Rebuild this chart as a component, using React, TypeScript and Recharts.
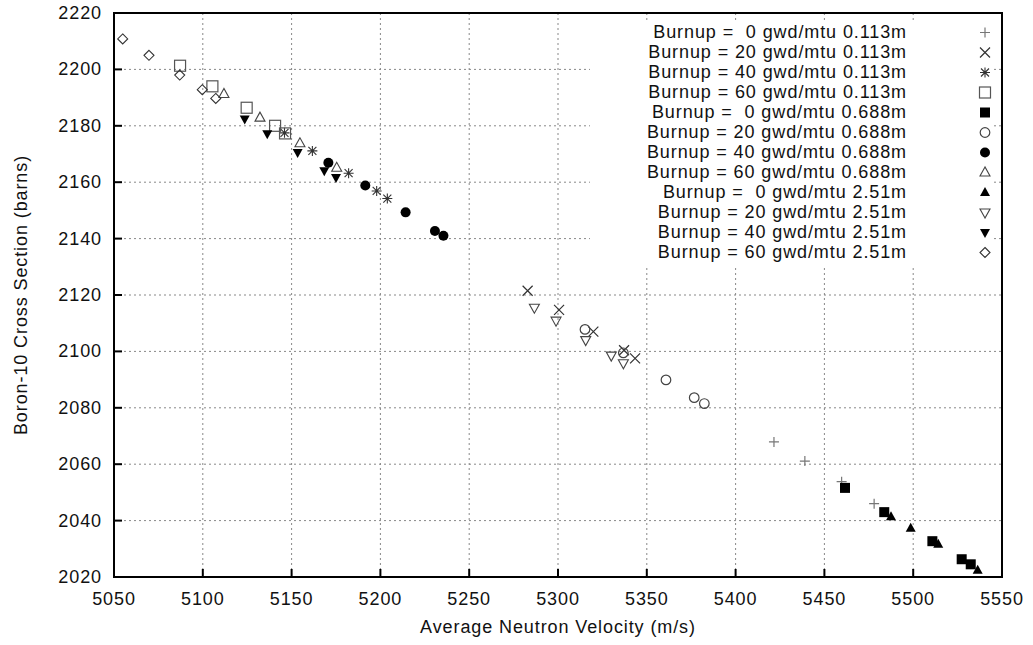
import React from 'react'
import { ScatterChart, Scatter, XAxis, YAxis, CartesianGrid, Legend, ReferenceArea } from 'recharts'

type Pt = [number, number]

// velocity (m/s), cross section (barns)
const b0_113: Pt[] = [[5421.6, 2067.9], [5439, 2061.1], [5459.7, 2053.8], [5478, 2046]]
const b20_113: Pt[] = [[5282.9, 2121.5], [5300.6, 2114.7], [5319.9, 2107], [5337.2, 2100.4], [5343.4, 2097.5]]
const b40_113: Pt[] = [[5146, 2177.5], [5161.7, 2171.1], [5182.1, 2163.2], [5197.9, 2156.9], [5203.9, 2154.2]]
const b60_113: Pt[] = [[5087.2, 2201.3], [5105.4, 2194], [5124.7, 2186.4], [5140.7, 2180], [5146.3, 2177.3]]

const b0_688: Pt[] = [[5461.6, 2051.6], [5483.7, 2043], [5510.8, 2032.7], [5527.3, 2026.3], [5532.4, 2024.5]]
const b20_688: Pt[] = [[5315.2, 2107.8], [5336.8, 2099.5], [5360.8, 2089.9], [5376.7, 2083.6], [5382.4, 2081.5]]
const b40_688: Pt[] = [[5170.7, 2166.9], [5191.5, 2158.8], [5214.2, 2149.3], [5230.7, 2142.7], [5235.5, 2141]]
const b60_688: Pt[] = [[5111.9, 2191.3], [5132.2, 2182.9], [5154.7, 2173.8], [5175.4, 2165.1]]

const b0_251: Pt[] = [[5487.5, 2041.4], [5498.6, 2037.3], [5514.1, 2031.6], [5536.3, 2022.4]]
const b20_251: Pt[] = [[5286.7, 2115.5], [5298.9, 2110.9], [5315.6, 2104], [5330, 2098.5], [5336.8, 2095.8]]
const b40_251: Pt[] = [[5123.6, 2182.4], [5136.3, 2177.2], [5153.4, 2170.5], [5168.4, 2164.1], [5175, 2161.7]]
const b60_251: Pt[] = [[5054.9, 2210.8], [5069.7, 2205], [5087, 2198], [5099.7, 2192.8], [5107.3, 2189.7]]

const seriesNames = [
  'Burnup =  0 gwd/mtu 0.113m',
  'Burnup = 20 gwd/mtu 0.113m',
  'Burnup = 40 gwd/mtu 0.113m',
  'Burnup = 60 gwd/mtu 0.113m',
  'Burnup =  0 gwd/mtu 0.688m',
  'Burnup = 20 gwd/mtu 0.688m',
  'Burnup = 40 gwd/mtu 0.688m',
  'Burnup = 60 gwd/mtu 0.688m',
  'Burnup =  0 gwd/mtu 2.51m',
  'Burnup = 20 gwd/mtu 2.51m',
  'Burnup = 40 gwd/mtu 2.51m',
  'Burnup = 60 gwd/mtu 2.51m',
]
const seriesData = [b0_113, b20_113, b40_113, b60_113, b0_688, b20_688, b40_688, b60_688, b0_251, b20_251, b40_251, b60_251]
const markerKinds = ['plus', 'cross', 'star', 'square', 'squareFill', 'circle', 'circleFill', 'tri', 'triFill', 'triDown', 'triDownFill', 'diamond']

const xTicks = [5050, 5100, 5150, 5200, 5250, 5300, 5350, 5400, 5450, 5500, 5550]
const yTicks = [2020, 2040, 2060, 2080, 2100, 2120, 2140, 2160, 2180, 2200, 2220]

const FONT = '"Liberation Sans", Arial, Helvetica, sans-serif'
const textStyle = { fontFamily: FONT, fontSize: 18, letterSpacing: 0.9 }

function Marker({ kind, cx, cy }: { kind: string; cx: number; cy: number }) {
  switch (kind) {
    case 'plus':
      return <path d={`M${cx - 5},${cy}h10M${cx},${cy - 5}v10`} stroke="#777" strokeWidth={1.2} fill="none" />
    case 'cross':
      return <path d={`M${cx - 5},${cy - 5}l10,10M${cx - 5},${cy + 5}l10,-10`} stroke="#333" strokeWidth={1.2} fill="none" />
    case 'star':
      return (
        <path
          d={`M${cx - 5},${cy}h10M${cx},${cy - 5}v10M${cx - 4},${cy - 4}l8,8M${cx - 4},${cy + 4}l8,-8`}
          stroke="#333"
          strokeWidth={1.1}
          fill="none"
        />
      )
    case 'square':
      return <rect x={cx - 5.5} y={cy - 5.5} width={11} height={11} stroke="#555" strokeWidth={1.2} fill="none" />
    case 'squareFill':
      return <rect x={cx - 5} y={cy - 5} width={10} height={10} fill="#000" />
    case 'circle':
      return <circle cx={cx} cy={cy} r={4.8} stroke="#444" strokeWidth={1.2} fill="none" />
    case 'circleFill':
      return <circle cx={cx} cy={cy} r={5} fill="#000" />
    case 'tri':
      return <polygon points={`${cx},${cy - 5.5} ${cx - 5},${cy + 3.5} ${cx + 5},${cy + 3.5}`} stroke="#444" strokeWidth={1.1} fill="none" />
    case 'triFill':
      return <polygon points={`${cx},${cy - 5.5} ${cx - 5},${cy + 3.5} ${cx + 5},${cy + 3.5}`} fill="#000" />
    case 'triDown':
      return <polygon points={`${cx},${cy + 5.5} ${cx - 5},${cy - 3.5} ${cx + 5},${cy - 3.5}`} stroke="#444" strokeWidth={1.1} fill="none" />
    case 'triDownFill':
      return <polygon points={`${cx},${cy + 5.5} ${cx - 5},${cy - 3.5} ${cx + 5},${cy - 3.5}`} fill="#000" />
    default:
      return <polygon points={`${cx},${cy - 5} ${cx + 5},${cy} ${cx},${cy + 5} ${cx - 5},${cy}`} stroke="#333" strokeWidth={1.1} fill="none" />
  }
}

const BottomTick = ({ x, y, payload }: any) => (
  <g>
    <line x1={x} x2={x} y1={y} y2={y - 8} stroke="#000" strokeWidth={2} />
    <text x={x} y={y + 28} textAnchor="middle" fill="#111" style={textStyle}>{payload.value}</text>
  </g>
)
const TopTick = ({ x, y }: any) => <line x1={x} x2={x} y1={y} y2={y + 8} stroke="#000" strokeWidth={2} />
const LeftTick = ({ x, y, payload }: any) => (
  <g>
    <line x1={x} x2={x + 8} y1={y} y2={y} stroke="#000" strokeWidth={2} />
    <text x={x - 12} y={y + 6} textAnchor="end" fill="#111" style={textStyle}>{payload.value}</text>
  </g>
)
const RightTick = ({ x, y }: any) => <line x1={x - 8} x2={x} y1={y} y2={y} stroke="#000" strokeWidth={2} />

const renderLegend = () => (
  <svg width={403} height={245} style={{ display: 'block' }}>
    <rect width={403} height={245} fill="#fff" />
    {seriesNames.map((name, i) => (
      <g key={name}>
        <text x={317} y={17.3 + 20 * i} textAnchor="end" fill="#111" style={{ ...textStyle, whiteSpace: 'pre' }}>
          {name}
        </text>
        <Marker kind={markerKinds[i]} cx={395} cy={11.5 + 20 * i} />
      </g>
    ))}
  </svg>
)

export default function App() {
  return (
    <div style={{ position: 'absolute', left: 0, top: 0, width: 1033, height: 645, background: '#fff' }}>
      <ScatterChart width={1033} height={645} margin={{ top: 13, right: 31, bottom: 0, left: 0 }} style={{ fontFamily: FONT }}>
        <CartesianGrid stroke="#888" strokeDasharray="2 3" />
        <XAxis
          dataKey="x"
          type="number"
          domain={[5050, 5550]}
          ticks={xTicks}
          interval={0}
          height={68}
          axisLine={false}
          tickLine={false}
          tickSize={0}
          tickMargin={0}
          tick={<BottomTick />}
          label={(p: any) => {
            const vb = p.viewBox || { x: 114, y: 577, width: 888 }
            return (
              <text x={vb.x + vb.width / 2} y={vb.y + 56} textAnchor="middle" fill="#111" style={textStyle}>
                Average Neutron Velocity (m/s)
              </text>
            )
          }}
        />
        <XAxis xAxisId="top" orientation="top" type="number" domain={[5050, 5550]} ticks={xTicks} interval={0} height={0} axisLine={false} tickLine={false} tickSize={0} tickMargin={0} tick={<TopTick />} />
        <YAxis
          dataKey="y"
          type="number"
          domain={[2020, 2220]}
          ticks={yTicks}
          interval={0}
          width={114}
          axisLine={false}
          tickLine={false}
          tickSize={0}
          tickMargin={0}
          tick={<LeftTick />}
          label={(p: any) => {
            const vb = p.viewBox || { x: 0, y: 13, height: 564 }
            const cx = vb.x + 27
            const cy = vb.y + vb.height / 2
            return (
              <text x={cx} y={cy} transform={`rotate(-90 ${cx} ${cy})`} textAnchor="middle" fill="#111" style={textStyle}>
                Boron-10 Cross Section (barns)
              </text>
            )
          }}
        />
        <YAxis yAxisId="right" orientation="right" type="number" domain={[2020, 2220]} ticks={yTicks} interval={0} width={0} axisLine={false} tickLine={false} tickSize={0} tickMargin={0} tick={<RightTick />} />
        {seriesData.map((pts, i) => (
          <Scatter
            key={seriesNames[i]}
            name={seriesNames[i]}
            data={pts.map(([x, y]) => ({ x, y }))}
            isAnimationActive={false}
            shape={(p: any) => <Marker kind={markerKinds[i]} cx={p.cx} cy={p.cy} />}
          />
        ))}
        <ReferenceArea x1={5050} x2={5550} y1={2020} y2={2220} fill="none" stroke="#000" strokeWidth={2} ifOverflow="visible" />
        <Legend
          content={renderLegend}
          layout="horizontal"
          align="center"
          verticalAlign="middle"
          wrapperStyle={{ position: 'absolute', left: 590, top: 21, width: 403, height: 245 }}
        />
      </ScatterChart>
    </div>
  )
}
